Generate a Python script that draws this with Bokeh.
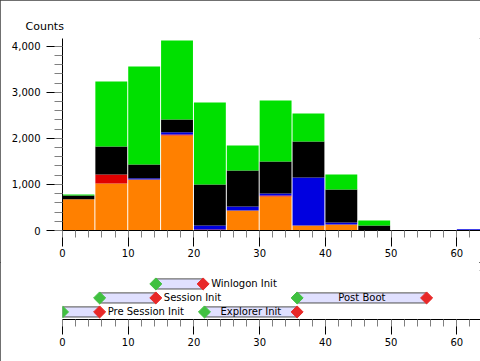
import math
from bokeh.plotting import figure
from bokeh.layouts import column
from bokeh.models import (Range1d, SingleIntervalTicker, NumeralTickFormatter,
                          ColumnDataSource)
from bokeh.core.properties import value
from bokeh.embed import file_html
from bokeh.resources import INLINE

# ---------------- data ----------------
bin_width = 5
bin_starts = [0, 5, 10, 15, 20, 25, 30, 35, 40, 45, 50, 55, 60]
orange = [680, 1020, 1106, 2060, 0, 434, 738, 108, 130, 0, 0, 0, 0]
red = [0, 195, 0, 22, 20, 0, 22, 0, 0, 0, 0, 0, 0]
blue = [0, 0, 29, 50, 88, 86, 43, 1042, 44, 0, 0, 0, 28]
black = [80, 607, 297, 275, 892, 780, 694, 781, 715, 108, 0, 0, 0]
green = [20, 1410, 2125, 1715, 1777, 544, 1323, 607, 326, 109, 0, 0, 0]

phase_names = ["Pre Session Init", "Session Init", "Winlogon Init", "Explorer Init", "Post Boot"]
phase_starts = [0.0, 5.65, 14.2, 21.6, 35.7]
phase_ends = [5.65, 14.2, 21.4, 35.7, 55.4]
phase_rows = [0, 1, 2, 0, 1]

x_ticks_interval = 10
y_ticks_interval = 1000

# ---------------- styles ----------------
FONT = "DejaVu Sans"
FS = "10px"
W = 480
LEFT = 62
x_range = Range1d(0, 63.6)

gap = 0.15
src = ColumnDataSource(dict(
    x=[s + (bin_width - gap) / 2 for s in bin_starts],
    orange=orange, red=red, blue=blue, black=black, green=green))

p = figure(width=W, height=262, x_range=x_range, y_range=Range1d(0, 4167),
           output_backend="svg", toolbar_location=None,
           min_border_left=LEFT, min_border_right=0, min_border_top=38,
           min_border_bottom=32, title="Counts")
p.vbar_stack(["orange", "red", "blue", "black", "green"], x="x",
             width=bin_width - gap, source=src,
             color=["#FF8000", "#E00000", "#0000E0", "#000000", "#00E000"],
             line_color=None)

p.title.align = "left"
p.title.offset = -37
p.title.text_font = FONT
p.title.text_font_size = "11px"
p.title.text_font_style = "normal"
p.title.text_color = "#000000"
p.title.standoff = 11

p.xgrid.visible = False
p.ygrid.visible = False
p.outline_line_color = None
p.background_fill_color = "white"
p.border_fill_color = "white"

p.xaxis.ticker = SingleIntervalTicker(interval=x_ticks_interval, num_minor_ticks=5)
p.yaxis.ticker = SingleIntervalTicker(interval=y_ticks_interval, num_minor_ticks=5)
p.yaxis.formatter = NumeralTickFormatter(format="0,0")

for ax in (p.xaxis[0], p.yaxis[0]):
    ax.axis_line_color = "#000000"
    ax.major_tick_line_color = "#000000"
    ax.minor_tick_line_color = "#808080"
    ax.major_tick_in = 0
    ax.minor_tick_in = 0
    ax.major_tick_out = 16
    ax.major_label_text_font = FONT
    ax.major_label_text_font_size = FS
    ax.major_label_text_color = "#000000"
p.xaxis.minor_tick_out = 7
p.yaxis.minor_tick_out = 8
p.xaxis.major_label_standoff = 2
p.yaxis.major_label_standoff = 6

# ---------------- timeline ----------------
psrc = ColumnDataSource(dict(
    name=phase_names, start=phase_starts, end=phase_ends, row=phase_rows,
    mid=[(s + e) / 2 for s, e in zip(phase_starts, phase_ends)]))

inside = [i for i, (s, e) in enumerate(zip(phase_starts, phase_ends)) if e - s > 12]
outside = [i for i in range(len(phase_names)) if i not in inside]

p2 = figure(width=W, height=99, x_range=x_range, y_range=Range1d(-0.54, 2.96),
            output_backend="svg", toolbar_location=None,
            min_border_left=LEFT, min_border_right=0, min_border_top=8,
            min_border_bottom=42, y_axis_location=None)
p2.hbar(y="row", left="start", right="end", height=0.72, source=psrc,
        fill_color="#E0E0FF", line_color="#505050", line_width=1)
p2.scatter(x="start", y="row", source=psrc, marker="square", angle=math.pi / 4,
           size=8.5, fill_color="#40C040", line_color="#40C040")
p2.scatter(x="end", y="row", source=psrc, marker="square", angle=math.pi / 4,
           size=8.5, fill_color="#E82828", line_color="#E82828")

p2.text(x=[phase_ends[i] for i in outside], y=[phase_rows[i] for i in outside],
        text=[phase_names[i] for i in outside], x_offset=8,
        text_align="left", text_baseline="middle",
        text_font=value(FONT), text_font_size=FS, text_color="#000000")
p2.text(x=[(phase_starts[i] + phase_ends[i]) / 2 for i in inside],
        y=[phase_rows[i] for i in inside],
        text=[phase_names[i] for i in inside],
        text_align="center", text_baseline="middle",
        text_font=value(FONT), text_font_size=FS, text_color="#000000")

p2.xgrid.visible = False
p2.ygrid.visible = False
p2.outline_line_color = None
p2.xaxis.ticker = SingleIntervalTicker(interval=x_ticks_interval, num_minor_ticks=5)
ax = p2.xaxis[0]
ax.axis_line_color = "#000000"
ax.major_tick_line_color = "#000000"
ax.minor_tick_line_color = "#808080"
ax.major_tick_in = 0
ax.minor_tick_in = 0
ax.major_tick_out = 15
ax.minor_tick_out = 7
ax.major_label_standoff = 3
ax.major_label_text_font = FONT
ax.major_label_text_font_size = FS
ax.major_label_text_color = "#000000"

layout = column(p, p2, spacing=0,
                styles={"position": "absolute", "left": "0px", "top": "0px",
                        "outline": "1px solid #404040", "outline-offset": "-1px"})

open("out.html", "w").write(file_html(layout, INLINE))
